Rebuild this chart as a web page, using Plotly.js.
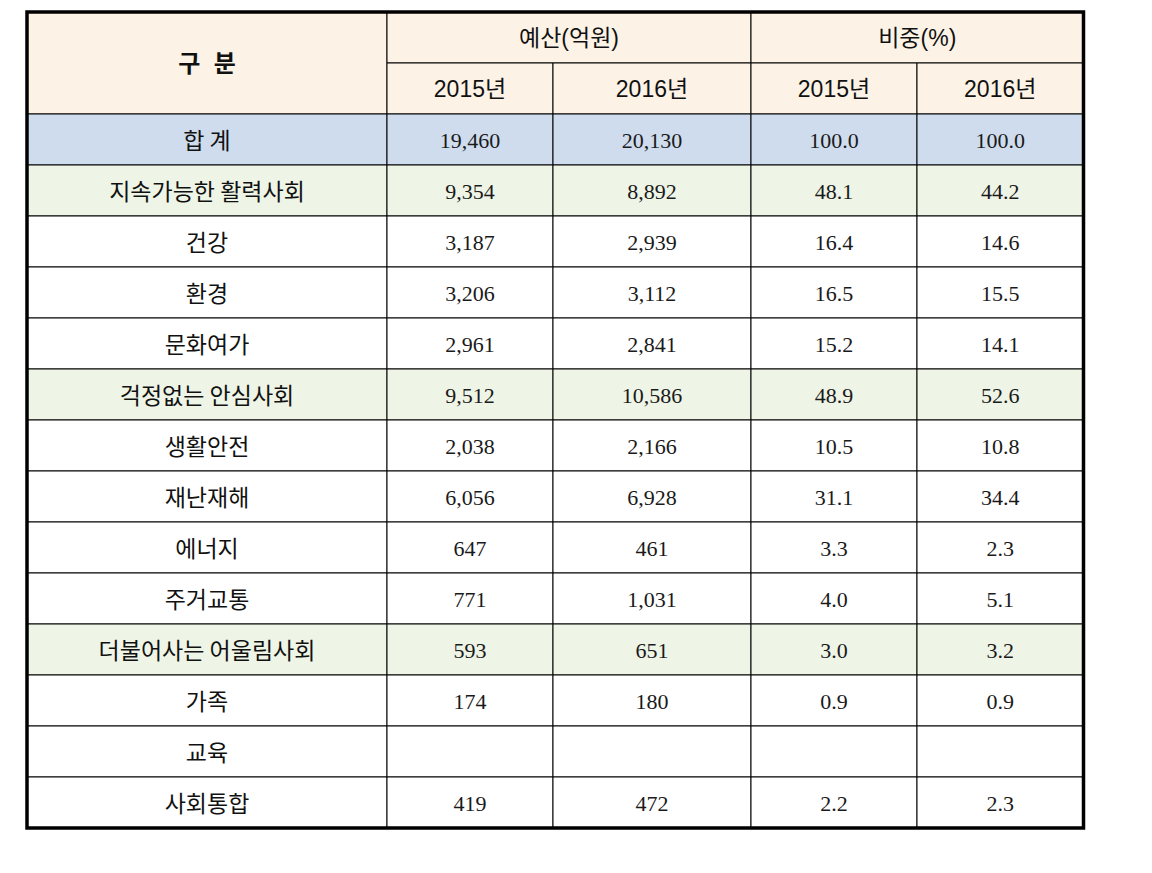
<!DOCTYPE html>
<html>
<head>
<meta charset="utf-8">
<script src="https://cdn.plot.ly/plotly-3.0.1.min.js"></script>
<style>html,body{margin:0;padding:0;background:#fff;}#chart{width:1152px;height:873px;}</style>
</head>
<body>
<div id="chart"></div>
<script>
// ---- data ----
const categories = ['합 계','지속가능한 활력사회','건강','환경','문화여가','걱정없는 안심사회','생활안전','재난재해','에너지','주거교통','더불어사는 어울림사회','가족','교육','사회통합'];
const rowTypes = ['total','group','item','item','item','group','item','item','item','item','group','item','item','item'];
const budget2015 = [19460, 9354, 3187, 3206, 2961, 9512, 2038, 6056, 647, 771, 593, 174, null, 419];
const budget2016 = [20130, 8892, 2939, 3112, 2841, 10586, 2166, 6928, 461, 1031, 651, 180, null, 472];
const share2015 = [100.0, 48.1, 16.4, 16.5, 15.2, 48.9, 10.5, 31.1, 3.3, 4.0, 3.0, 0.9, null, 2.2];
const share2016 = [100.0, 44.2, 14.6, 15.5, 14.1, 52.6, 10.8, 34.4, 2.3, 5.1, 3.2, 0.9, null, 2.3];
const headerTop = ['구&nbsp;&nbsp;분', '예산(억원)', '비중(%)'];
const headerYears = ['2015년', '2016년', '2015년', '2016년'];

// ---- layout constants ----
const colEdges = [27, 387, 553, 751, 917, 1083.5];
const colCenter = i => (colEdges[i] + colEdges[i + 1]) / 2;
const fills = {header: '#FCF3E6', total: '#CEDCEE', group: '#EEF4E6', item: '#FFFFFF'};
const rowPx = 51, topPx = 12, H = 873, W = 1152;
// y unit = one row; header row1 = -2, header row2 = -1, data rows 0..n-1
const yTop = -topPx / rowPx - 2.5;
const yBottom = (H - topPx) / rowPx - 2.5;
const px = p => p / rowPx;

const fmtInt = v => v == null ? '' : v.toLocaleString('en-US');
const fmtDec = v => v == null ? '' : v.toFixed(1);

const rows = categories.map((_, i) => i);
const shapes = [];
function rect(x0, x1, y0, y1, fill) {
  shapes.push({type: 'rect', xref: 'x', yref: 'y', x0, x1, y0, y1,
    fillcolor: fill, line: {color: '#000', width: 1}, layer: 'below'});
}
// header cells
rect(colEdges[0], colEdges[1], -2.5, -0.5, fills.header);
rect(colEdges[1], colEdges[3], -2.5, -1.5, fills.header);
rect(colEdges[3], colEdges[5], -2.5, -1.5, fills.header);
for (let c = 1; c <= 4; c++) rect(colEdges[c], colEdges[c + 1], -1.5, -0.5, fills.header);
// body cells
rows.forEach(r => {
  for (let c = 0; c < 5; c++) rect(colEdges[c], colEdges[c + 1], r - 0.5, r + 0.5, fills[rowTypes[r]]);
});
// outer thick border
shapes.push({type: 'rect', xref: 'x', yref: 'y', x0: colEdges[0], x1: colEdges[5],
  y0: -2.5, y1: categories.length - 0.5, line: {color: '#000', width: 3.5}, layer: 'above'});

const sansKR = 'Noto Sans CJK KR, Liberation Sans, sans-serif';
const headFont = 'Liberation Sans, Noto Sans CJK KR, sans-serif';
const serif = 'Liberation Serif, DejaVu Serif, serif';

function textTrace(x, y, text, font) {
  return {type: 'scatter', mode: 'text', x, y, text, textposition: 'middle center',
    textfont: font, hoverinfo: 'skip', showlegend: false, cliponaxis: false};
}
const traces = [
  textTrace([colCenter(0)], [-1.5 + px(3)], ['<b>' + headerTop[0] + '</b>'], {family: headFont, size: 24, color: '#111'}),
  textTrace([(colEdges[1] + colEdges[3]) / 2, (colEdges[3] + colEdges[5]) / 2], [-2 + px(3), -2 + px(3)], headerTop.slice(1), {family: headFont, size: 23, color: '#111'}),
  textTrace([1, 2, 3, 4].map(colCenter), [-1, -1, -1, -1].map(v => v + px(3)), headerYears, {family: headFont, size: 23, color: '#111'}),
  textTrace(rows.map(() => colCenter(0)), rows.map(r => r + px(4)), categories, {family: sansKR, size: 23, color: '#111'}),
  textTrace(rows.map(() => colCenter(1)), rows.map(r => r + px(3)), budget2015.map(fmtInt), {family: serif, size: 22, color: '#1a1a1a'}),
  textTrace(rows.map(() => colCenter(2)), rows.map(r => r + px(3)), budget2016.map(fmtInt), {family: serif, size: 22, color: '#1a1a1a'}),
  textTrace(rows.map(() => colCenter(3)), rows.map(r => r + px(3)), share2015.map(fmtDec), {family: serif, size: 22, color: '#1a1a1a'}),
  textTrace(rows.map(() => colCenter(4)), rows.map(r => r + px(3)), share2016.map(fmtDec), {family: serif, size: 22, color: '#1a1a1a'})
];

const layout = {
  width: W, height: H,
  margin: {l: 0, r: 0, t: 0, b: 0, pad: 0},
  paper_bgcolor: '#fff', plot_bgcolor: '#fff',
  xaxis: {range: [0, W], visible: false, fixedrange: true},
  yaxis: {range: [yBottom, yTop], visible: false, fixedrange: true},
  shapes, hovermode: false, showlegend: false
};
Plotly.newPlot('chart', traces, layout, {displayModeBar: false, staticPlot: true});
</script>
</body>
</html>
